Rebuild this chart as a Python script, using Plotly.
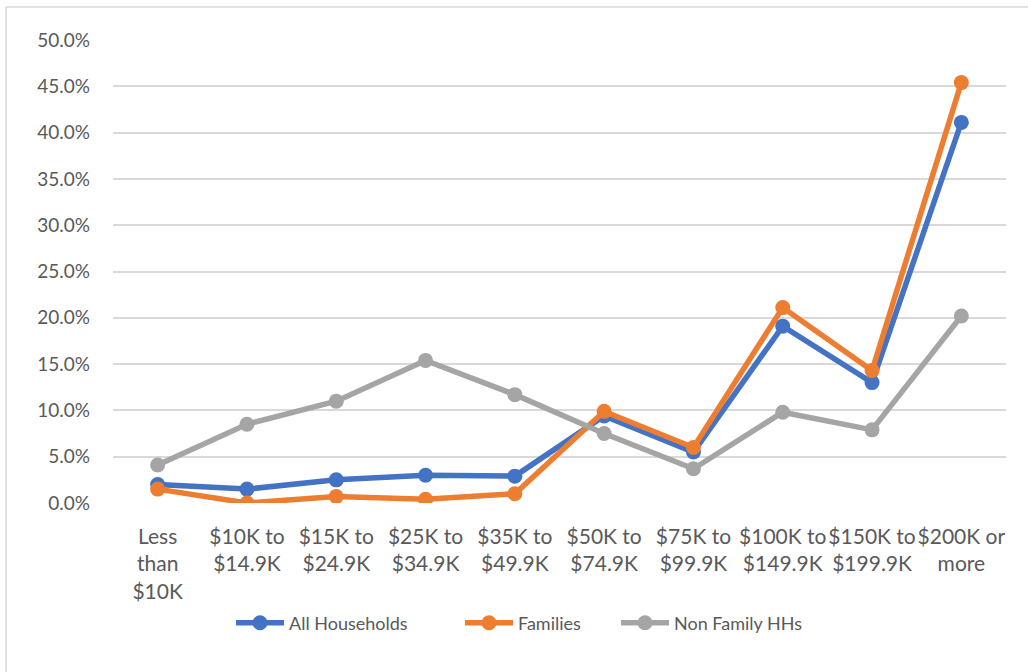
import plotly.graph_objects as go

categories = ["Less<br>than<br>$10K", "$10K to<br>$14.9K", "$15K to<br>$24.9K", "$25K to<br>$34.9K",
              "$35K to<br>$49.9K", "$50K to<br>$74.9K", "$75K to<br>$99.9K", "$100K to<br>$149.9K",
              "$150K to<br>$199.9K", "$200K or<br>more"]
all_households = [0.020, 0.015, 0.025, 0.030, 0.029, 0.094, 0.055, 0.191, 0.130, 0.411]
families = [0.015, 0.000, 0.007, 0.004, 0.010, 0.099, 0.060, 0.211, 0.143, 0.454]
non_family = [0.041, 0.085, 0.110, 0.154, 0.117, 0.075, 0.037, 0.098, 0.079, 0.202]
y_ticks = [0.0, 0.05, 0.10, 0.15, 0.20, 0.25, 0.30, 0.35, 0.40, 0.45, 0.50]

series = [("All Households", all_households, "#4472C4", "legend", 239),
          ("Families", families, "#ED7D31", "legend2", 468),
          ("Non Family HHs", non_family, "#A5A5A5", "legend3", 624)]

W, H = 1028, 672
L, R, T, B = 113, 22, 40, 169
pw, ph = W - L - R, H - T - B

font = dict(family="Lato, Calibri, sans-serif", size=19, color="#595959")
xfont = dict(family="Lato, Calibri, sans-serif", size=21, color="#595959")
lfont = dict(family="Lato, Calibri, sans-serif", size=18, color="#595959")

fig = go.Figure()
legends = {}
for name, vals, col, leg, px in series:
    fig.add_trace(go.Scatter(x=categories, y=vals, name=name, mode="lines+markers",
                             line=dict(color=col, width=5.5),
                             marker=dict(color=col, size=15), legend=leg))
    legends[leg] = dict(orientation="h", x=(px - 8 - L) / pw, xanchor="left",
                        y=-(623 - 503) / ph, yanchor="middle",
                        font=lfont, itemwidth=48, bgcolor="rgba(0,0,0,0)")

fig.update_layout(
    width=W, height=H,
    margin=dict(l=L, r=R, t=T, b=B, autoexpand=False),
    paper_bgcolor="white", plot_bgcolor="white",
    font=font,
    showlegend=True,
    **legends,
    xaxis=dict(showgrid=False, showline=False, zeroline=False, ticks="", automargin=False,
               range=[-0.5, 9.5], tickfont=xfont, ticklabelstandoff=19, tickangle=0),
    yaxis=dict(range=[0, 0.5], tickvals=y_ticks, tickformat=".1%", showgrid=True, automargin=False,
               gridcolor="#D9D9D9", gridwidth=1.5, zeroline=False, showline=False,
               ticks="", tickfont=font, ticklabelstandoff=22),
    shapes=[
        dict(type="line", xref="paper", yref="paper",
             x0=(6 - L) / pw, x1=(W + 10 - L) / pw, y0=(H - 7 - B) / ph, y1=(H - 7 - B) / ph,
             line=dict(color="#D9D9D9", width=1.5)),
        dict(type="line", xref="paper", yref="paper",
             x0=(6 - L) / pw, x1=(6 - L) / pw, y0=(H - 7 - B) / ph, y1=-(B + 10) / ph,
             line=dict(color="#D9D9D9", width=1.5)),
    ],
)
fig.write_html("out.html", config={"displayModeBar": False},
               post_script="document.body.style.margin='0';")
